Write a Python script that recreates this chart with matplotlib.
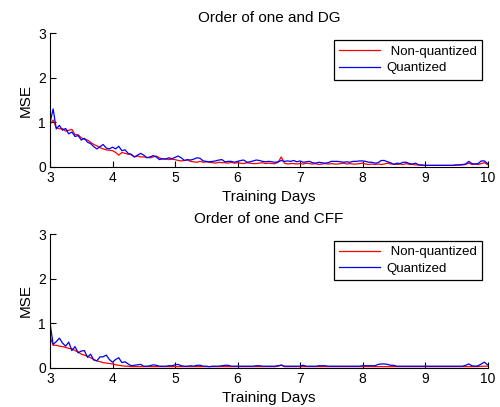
import numpy as np
import matplotlib
matplotlib.use("Agg")
import matplotlib.pyplot as plt

plt.rcParams['font.family'] = ['Liberation Sans', 'DejaVu Sans']

# MSE sampled every 0.05 training days, from day 3 to day 10
dg_nonq = [0.95, 1.05, 0.88, 0.85, 0.86, 0.80, 0.82, 0.84, 0.72, 0.72,
           0.65, 0.62, 0.60, 0.55, 0.50, 0.47, 0.43, 0.40, 0.38, 0.37,
           0.36, 0.32, 0.26, 0.32, 0.30, 0.28, 0.27, 0.22, 0.24, 0.22,
           0.22, 0.21, 0.20, 0.22, 0.24, 0.20, 0.17, 0.18, 0.16, 0.17,
           0.16, 0.14, 0.13, 0.14, 0.15, 0.12, 0.11, 0.10, 0.12, 0.10,
           0.11, 0.10, 0.09, 0.08, 0.10, 0.09, 0.09, 0.08, 0.10, 0.08,
           0.09, 0.08, 0.07, 0.09, 0.08, 0.07, 0.07, 0.08, 0.09, 0.07,
           0.08, 0.07, 0.07, 0.10, 0.22, 0.08, 0.06, 0.07, 0.07, 0.06,
           0.07, 0.06, 0.08, 0.07, 0.06, 0.07, 0.05, 0.06, 0.07, 0.06,
           0.07, 0.06, 0.06, 0.07, 0.08, 0.06, 0.07, 0.06, 0.06, 0.07,
           0.08, 0.06, 0.05, 0.06, 0.05, 0.06, 0.05, 0.06, 0.08, 0.06,
           0.06, 0.05, 0.06, 0.05, 0.07, 0.05, 0.05, 0.04, 0.04, 0.03,
           0.03, 0.03, 0.03, 0.03, 0.03, 0.03, 0.03, 0.03, 0.03, 0.03,
           0.04, 0.04, 0.04, 0.05, 0.08, 0.05, 0.06, 0.05, 0.07, 0.09,
           0.05]
dg_q = [0.98, 1.30, 0.85, 0.93, 0.82, 0.86, 0.74, 0.78, 0.68, 0.70,
        0.60, 0.64, 0.55, 0.52, 0.45, 0.40, 0.45, 0.50, 0.42, 0.40,
        0.44, 0.40, 0.46, 0.36, 0.38, 0.30, 0.28, 0.22, 0.26, 0.30,
        0.26, 0.20, 0.22, 0.25, 0.22, 0.16, 0.18, 0.17, 0.20, 0.18,
        0.21, 0.24, 0.20, 0.14, 0.16, 0.15, 0.17, 0.20, 0.19, 0.13,
        0.12, 0.11, 0.12, 0.13, 0.15, 0.16, 0.11, 0.12, 0.12, 0.10,
        0.12, 0.14, 0.15, 0.10, 0.11, 0.13, 0.15, 0.14, 0.12, 0.11,
        0.12, 0.11, 0.10, 0.11, 0.14, 0.12, 0.13, 0.12, 0.14, 0.11,
        0.13, 0.10, 0.11, 0.12, 0.09, 0.08, 0.10, 0.09, 0.08, 0.09,
        0.12, 0.12, 0.12, 0.11, 0.10, 0.11, 0.10, 0.12, 0.12, 0.13,
        0.13, 0.12, 0.10, 0.10, 0.08, 0.09, 0.14, 0.14, 0.11, 0.09,
        0.05, 0.08, 0.07, 0.10, 0.10, 0.07, 0.06, 0.08, 0.04, 0.04,
        0.03, 0.03, 0.03, 0.03, 0.03, 0.03, 0.03, 0.03, 0.03, 0.03,
        0.04, 0.04, 0.05, 0.06, 0.12, 0.07, 0.06, 0.07, 0.13, 0.13,
        0.07]
cff_nonq = [0.70, 0.50, 0.50, 0.48, 0.47, 0.45, 0.43, 0.42, 0.38, 0.35,
            0.30, 0.28, 0.25, 0.22, 0.18, 0.15, 0.13, 0.11, 0.10, 0.09,
            0.08, 0.06, 0.05, 0.04, 0.03, 0.03, 0.02, 0.02, 0.02, 0.02,
            0.02, 0.02, 0.02, 0.02, 0.02, 0.02, 0.02, 0.02, 0.02, 0.02,
            0.02, 0.02, 0.02, 0.02, 0.02, 0.02, 0.02, 0.02, 0.02, 0.02,
            0.02, 0.02, 0.02, 0.02, 0.02, 0.02, 0.02, 0.02, 0.02, 0.02,
            0.02, 0.02, 0.02, 0.02, 0.02, 0.02, 0.02, 0.02, 0.02, 0.02,
            0.02, 0.02, 0.02, 0.03, 0.06, 0.02, 0.02, 0.02, 0.02, 0.02,
            0.02, 0.02, 0.02, 0.02, 0.02, 0.02, 0.02, 0.02, 0.02, 0.02,
            0.02, 0.02, 0.02, 0.02, 0.02, 0.02, 0.02, 0.02, 0.02, 0.02,
            0.02, 0.02, 0.02, 0.02, 0.02, 0.02, 0.02, 0.02, 0.02, 0.02,
            0.02, 0.02, 0.02, 0.02, 0.02, 0.02, 0.02, 0.02, 0.02, 0.02,
            0.02, 0.02, 0.02, 0.02, 0.02, 0.02, 0.02, 0.02, 0.02, 0.02,
            0.02, 0.02, 0.02, 0.02, 0.02, 0.02, 0.02, 0.02, 0.03, 0.03,
            0.03]
cff_q = [1.00, 0.52, 0.58, 0.66, 0.55, 0.48, 0.57, 0.38, 0.47, 0.33,
         0.37, 0.38, 0.23, 0.30, 0.17, 0.15, 0.24, 0.24, 0.28, 0.18,
         0.12, 0.18, 0.22, 0.11, 0.13, 0.08, 0.04, 0.05, 0.06, 0.07,
         0.03, 0.03, 0.04, 0.06, 0.05, 0.03, 0.03, 0.03, 0.04, 0.04,
         0.06, 0.07, 0.04, 0.03, 0.03, 0.04, 0.03, 0.05, 0.05, 0.03,
         0.03, 0.02, 0.03, 0.03, 0.03, 0.04, 0.05, 0.05, 0.03, 0.03,
         0.03, 0.03, 0.03, 0.03, 0.03, 0.03, 0.04, 0.04, 0.03, 0.03,
         0.03, 0.03, 0.03, 0.04, 0.05, 0.03, 0.03, 0.03, 0.03, 0.03,
         0.03, 0.05, 0.03, 0.03, 0.03, 0.03, 0.04, 0.04, 0.04, 0.03,
         0.03, 0.03, 0.03, 0.03, 0.03, 0.03, 0.03, 0.03, 0.03, 0.03,
         0.04, 0.04, 0.04, 0.04, 0.04, 0.07, 0.08, 0.08, 0.07, 0.05,
         0.05, 0.03, 0.03, 0.03, 0.03, 0.03, 0.03, 0.03, 0.03, 0.03,
         0.03, 0.03, 0.03, 0.03, 0.03, 0.03, 0.03, 0.03, 0.03, 0.03,
         0.03, 0.03, 0.03, 0.05, 0.08, 0.04, 0.03, 0.04, 0.08, 0.12,
         0.06]

days = np.linspace(3, 10, len(dg_q))
titles = ["Order of one and DG", "Order of one and CFF"]
xticks = [3, 4, 5, 6, 7, 8, 9, 10]
yticks = [0, 1, 2, 3]

fig = plt.figure(figsize=(5.0, 4.07), dpi=100)
ax1 = fig.add_axes([0.1, 0.5904, 0.875, 0.3277])
ax2 = fig.add_axes([0.1, 0.097, 0.875, 0.328])

panels = [(ax1, dg_nonq, dg_q, 'blue'), (ax2, cff_nonq, cff_q, '#0000e0')]
for i, (ax, nq, q, qcol) in enumerate(panels):
    ax.plot(days, nq, color='red', lw=0.9, label=' Non-quantized')
    ax.plot(days, q, color=qcol, lw=0.9, label='Quantized')
    ax.set_xlim(3, 10)
    ax.set_ylim(0, 3)
    ax.set_xticks(xticks)
    ax.set_yticks(yticks)
    ax.tick_params(direction='in', length=4, labelsize=10, pad=3)
    ax.spines['top'].set_visible(False)
    ax.spines['right'].set_visible(False)
    ax.set_title(titles[i], fontsize=11, pad=8)
    ax.set_xlabel('Training Days', fontsize=11, labelpad=3.5)
    ax.set_ylabel('MSE', fontsize=11, labelpad=4)
    leg = ax.legend(loc='upper right', bbox_to_anchor=(0.987, 0.95),
                    fontsize=9.5, fancybox=False, framealpha=1,
                    edgecolor='black', handlelength=3.1, handletextpad=0.5,
                    borderaxespad=0, labelspacing=0.35)
    leg.get_frame().set_linewidth(0.9)

fig.savefig('out.png', dpi=100)
